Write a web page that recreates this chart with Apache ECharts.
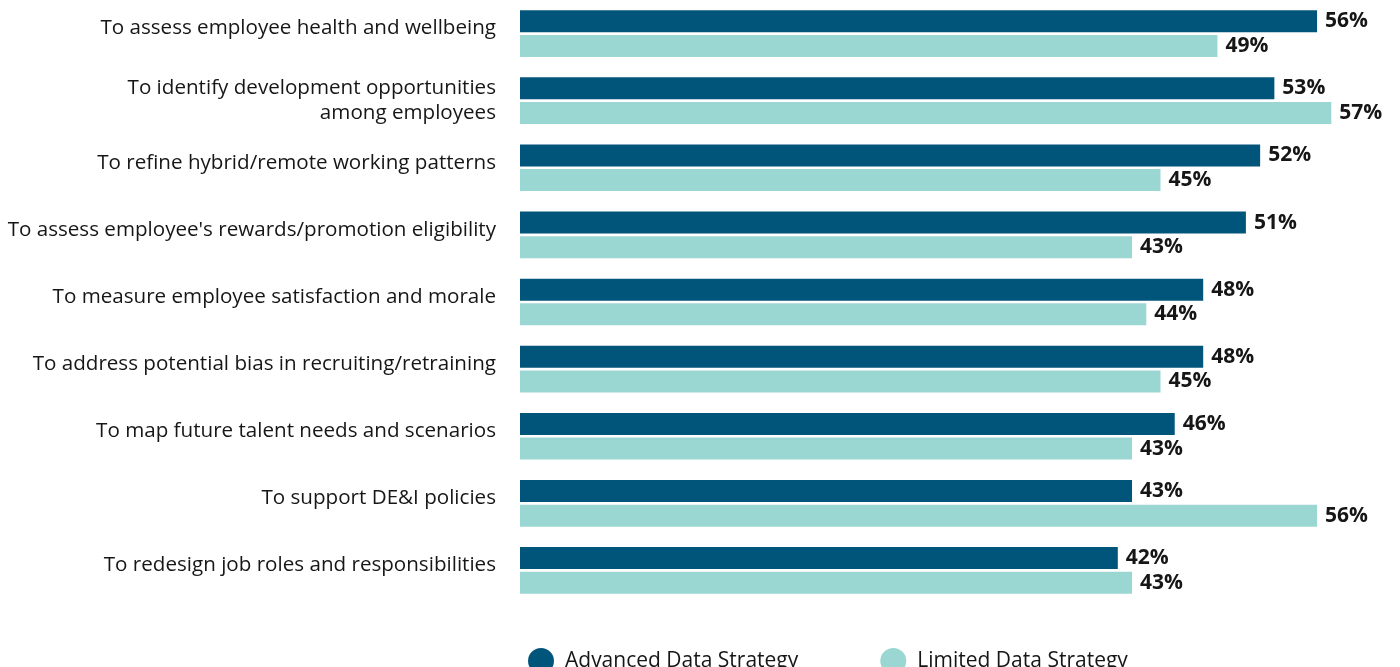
<!DOCTYPE html>
<html>
<head>
<meta charset="utf-8">
<script src="https://cdn.jsdelivr.net/npm/echarts@6/dist/echarts.min.js"></script>
<style>
html,body{margin:0;padding:0;background:#fff;}
#chart{width:1400px;height:667px;}
</style>
</head>
<body>
<div id="chart"></div>
<script>
// categories, top to bottom
var categories = [
	'To assess employee health and wellbeing',
	'To identify development opportunities\namong employees',
	'To refine hybrid/remote working patterns',
	"To assess employee's rewards/promotion eligibility",
	'To measure employee satisfaction and morale',
	'To address potential bias in recruiting/retraining',
	'To map future talent needs and scenarios',
	'To support DE&I policies',
	'To redesign job roles and responsibilities'
];
var advanced = [56, 53, 52, 51, 48, 48, 46, 43, 42];
var limited  = [49, 57, 45, 43, 44, 45, 43, 56, 43];

var labelStyle = {
	show: true,
	position: 'right',
	distance: 8,
	formatter: '{c}%',
	color: '#161616',
	fontSize: 21,
	fontWeight: 'bold',
	fontFamily: 'Open Sans'
};

var option = {
	animation: false,
	grid: { left: 520, right: 26, top: 0, height: 604 },
	xAxis: {
		type: 'value',
		min: 0,
		max: 60,
		show: false
	},
	yAxis: {
		type: 'category',
		data: categories,
		inverse: true,
		axisLine: { show: false },
		axisTick: { show: false },
		axisLabel: {
			margin: 24,
			color: '#161616',
			fontSize: 20.6,
			lineHeight: 25,
			fontFamily: 'Open Sans',
			align: 'right',
			// single-line labels sit a little above the band centre
			formatter: function (v) {
				return v.indexOf('\n') < 0 ? '{up|' + v + '}' : v;
			},
			rich: {
				up: { padding: [0, 0, 10, 0] }
			}
		}
	},
	legend: {
		left: 523,
		top: 643,
		icon: 'circle',
		itemWidth: 26,
		itemHeight: 26,
		itemGap: 82,
		textStyle: { fontSize: 21, color: '#161616', fontFamily: 'Open Sans', padding: [0, 0, 0, 6] },
		data: ['Advanced Data Strategy', 'Limited Data Strategy']
	},
	series: [
		{
			name: 'Advanced Data Strategy',
			type: 'bar',
			data: advanced,
			barWidth: 22,
			barGap: '12%',
			itemStyle: { color: '#02557A' },
			label: labelStyle
		},
		{
			name: 'Limited Data Strategy',
			type: 'bar',
			data: limited,
			barWidth: 22,
			itemStyle: { color: '#9BD7D2' },
			label: labelStyle
		}
	]
};
echarts.init(document.getElementById('chart')).setOption(option);
</script>
</body>
</html>
